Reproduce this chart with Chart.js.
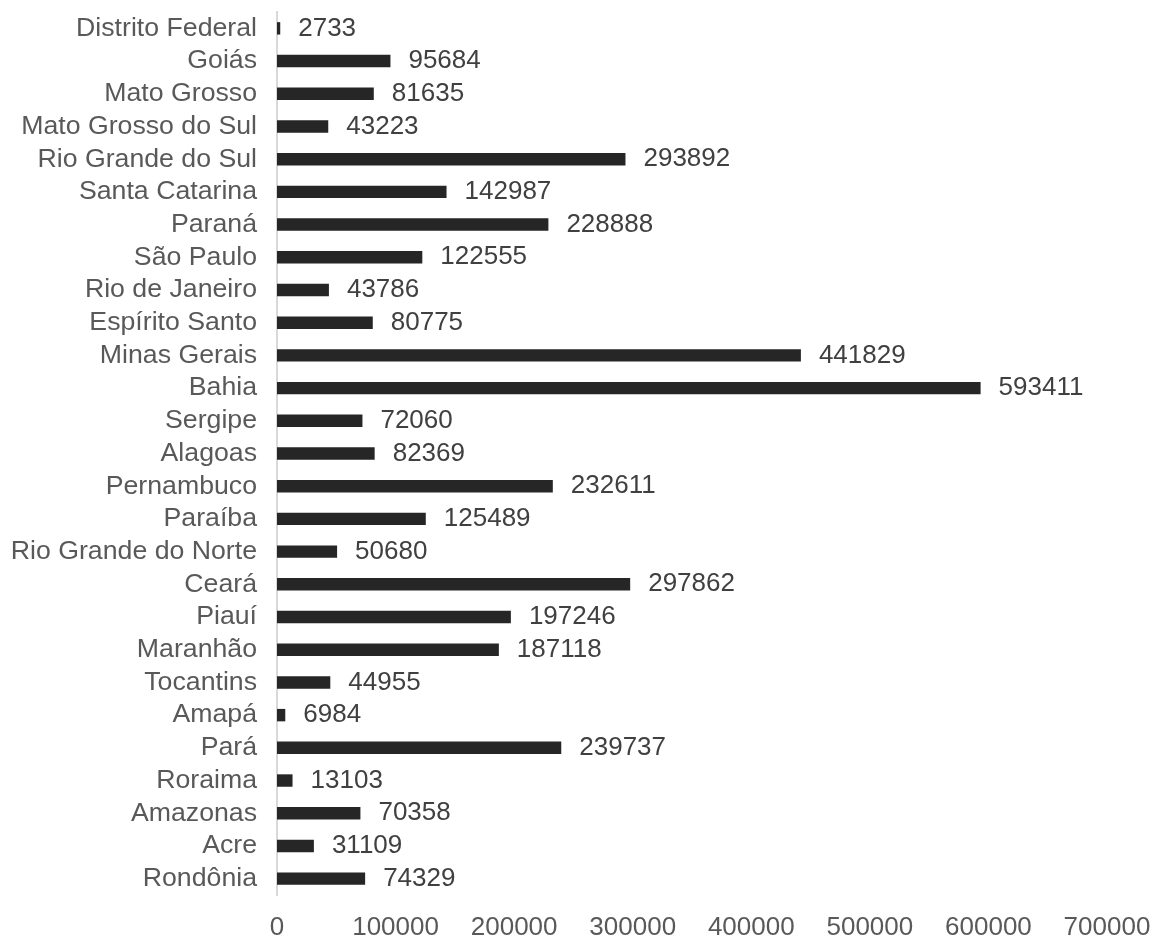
<!DOCTYPE html>
<html>
<head>
<meta charset="utf-8">
<script src="https://cdn.jsdelivr.net/npm/chart.js@4"></script>
<style>
  html, body { margin: 0; padding: 0; background: #fff; }
  #chart-estados { display: block; }
</style>
</head>
<body>
<canvas id="chart-estados" width="1156" height="938"></canvas>
<script>
const estados = [
  "Distrito Federal", "Goiás", "Mato Grosso", "Mato Grosso do Sul",
  "Rio Grande do Sul", "Santa Catarina", "Paraná", "São Paulo",
  "Rio de Janeiro", "Espírito Santo", "Minas Gerais", "Bahia",
  "Sergipe", "Alagoas", "Pernambuco", "Paraíba", "Rio Grande do Norte",
  "Ceará", "Piauí", "Maranhão", "Tocantins", "Amapá", "Pará",
  "Roraima", "Amazonas", "Acre", "Rondônia"
]

const valores = [
  2733, 95684, 81635, 43223,
  293892, 142987, 228888, 122555,
  43786, 80775, 441829, 593411,
  72060, 82369, 232611, 125489, 50680,
  297862, 197246, 187118, 44955, 6984, 239737,
  13103, 70358, 31109, 74329
]

const eixoMax = 700000
const eixoPasso = 100000

const fonte = "'Liberation Sans', Arial, sans-serif"
const tamanho = 26

// writes each value just past the end of its bar
const rotulosValores = {
  id: "rotulosValores",
  afterDatasetsDraw(chart) {
    const ctx = chart.ctx
    const meta = chart.getDatasetMeta(0)
    ctx.save()
    ctx.font = tamanho + "px " + fonte
    ctx.fillStyle = "#404040"
    ctx.textAlign = "left"
    ctx.textBaseline = "middle"
    meta.data.forEach((bar, i) => {
      ctx.fillText(String(valores[i]), bar.x + 18, bar.y)
    })
    ctx.restore()
  }
}

new Chart(document.getElementById("chart-estados"), {
  type: "bar",
  data: {
    labels: estados,
    datasets: [{
      data: valores,
      backgroundColor: "#262626",
      borderWidth: 0,
      barPercentage: 0.38,
      categoryPercentage: 1
    }]
  },
  options: {
    indexAxis: "y",
    responsive: false,
    animation: false,
    devicePixelRatio: 1,
    layout: { padding: { top: 12, right: 49, bottom: 0, left: 0 } },
    plugins: {
      legend: { display: false },
      tooltip: { enabled: false }
    },
    scales: {
      x: {
        min: 0,
        max: eixoMax,
        grid: { display: false, drawTicks: false },
        border: { display: false },
        ticks: {
          stepSize: eixoPasso,
          padding: 17,
          color: "#595959",
          font: { family: fonte, size: tamanho },
          maxRotation: 0,
          autoSkip: false,
          callback: v => String(v)
        },
        afterFit(scale) {
          scale.height = 43
          scale.paddingLeft = 0
          scale.paddingRight = 0
        }
      },
      y: {
        grid: { display: false, drawTicks: false },
        border: { display: true, color: "#d9d9d9", width: 2 },
        ticks: {
          padding: 20,
          autoSkip: false,
          color: "#595959",
          font: { family: fonte, size: 26.7 }
        },
        afterFit(scale) {
          scale.width = 277
          scale.paddingTop = 0
          scale.paddingBottom = 0
        }
      }
    }
  },
  plugins: [rotulosValores]
})
</script>
</body>
</html>
